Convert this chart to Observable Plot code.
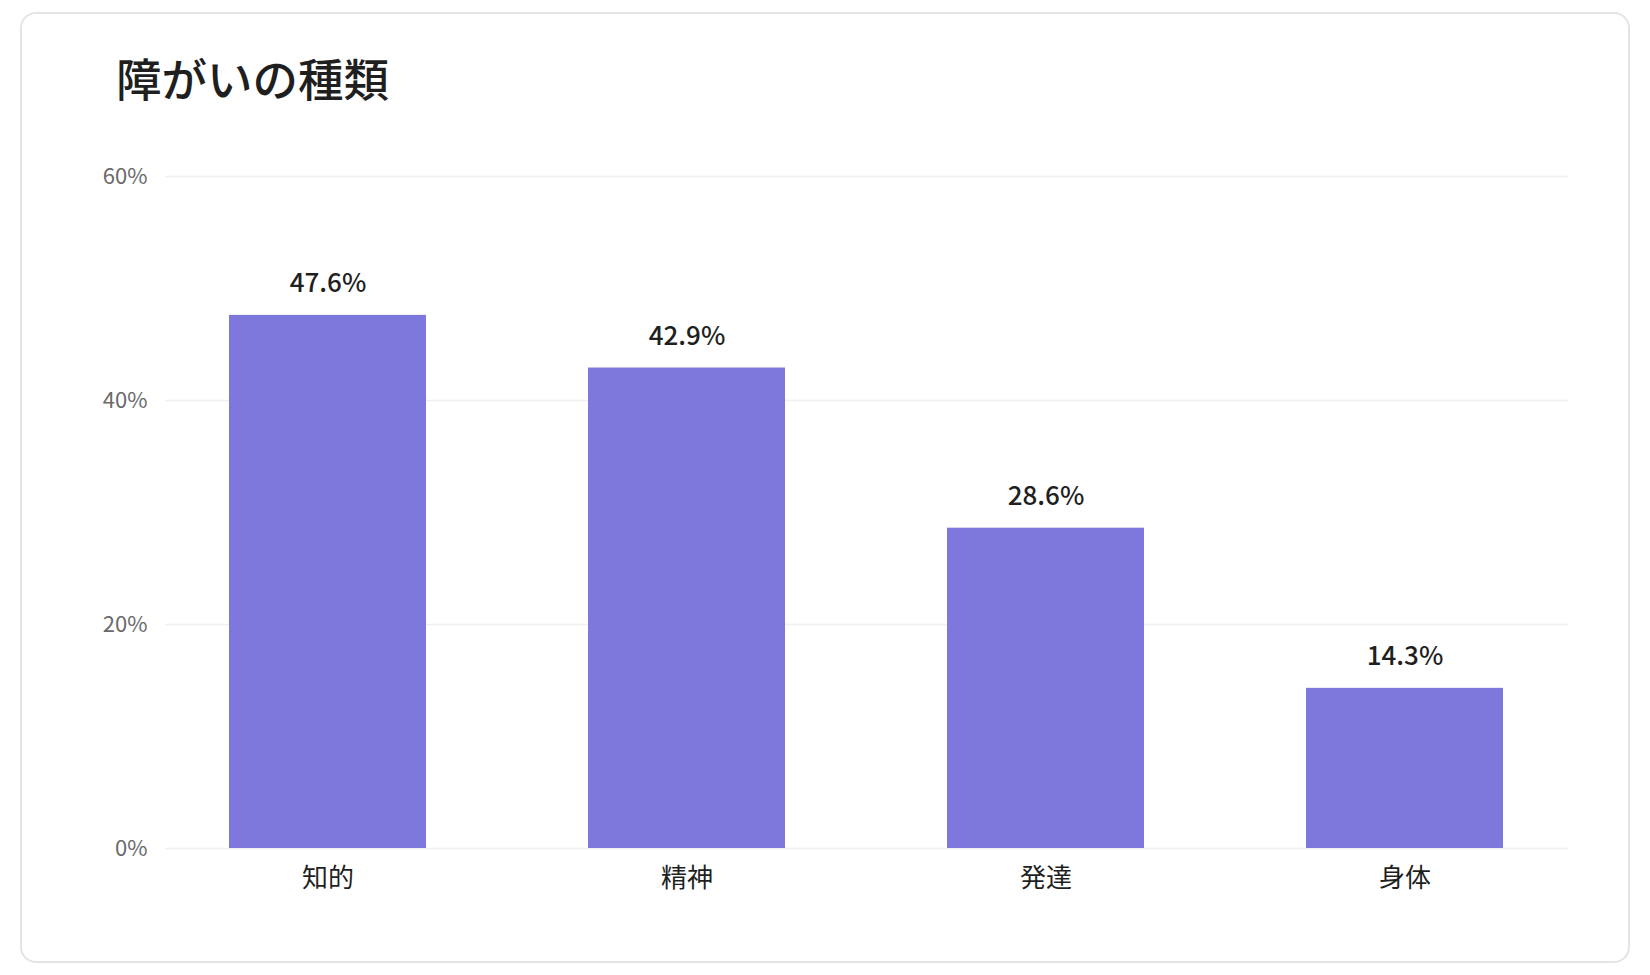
<!DOCTYPE html>
<html lang="ja">
<head>
<meta charset="utf-8">
<script src="https://cdn.jsdelivr.net/npm/d3@7"></script>
<script src="https://cdn.jsdelivr.net/npm/@observablehq/plot@0.6"></script>
<style>
  html, body { margin: 0; padding: 0; background: #ffffff; }
  body { width: 1650px; height: 975px; position: relative; overflow: hidden;
         font-family: "Noto Sans CJK JP", "Noto Sans", sans-serif; }
  #card { position: absolute; left: 20px; top: 12px; width: 1610px; height: 951px;
          box-sizing: border-box; border: 2px solid #e4e4e1; border-radius: 16px; background: #fff; }
  #title { position: absolute; left: 116px; top: 55px; margin: 0; font-size: 45.5px; line-height: 45px;
           font-weight: 500; color: #1f1f1f; white-space: nowrap; }
  #chart { position: absolute; left: 0; top: 130px; }
</style>
</head>
<body>
<div id="card"></div>
<h1 id="title">障がいの種類</h1>
<div id="chart"></div>
<script>
const categories = ["知的", "精神", "発達", "身体"];
const shares = [47.6, 42.9, 28.6, 14.3];
const yTicks = [0, 20, 40, 60];

const data = categories.map((c, i) => ({category: c, share: shares[i]}));

const chart = Plot.plot({
  width: 1650,
  height: 780,
  marginLeft: 165,
  marginRight: 82,
  marginTop: 46,
  marginBottom: 62,
  style: {fontFamily: '"Noto Sans CJK JP", sans-serif', background: "transparent", overflow: "visible"},
  x: {domain: categories, paddingInner: 0.45, paddingOuter: 0.178, label: null},
  y: {domain: [0, 60], label: null},
  marks: [
    Plot.gridY(yTicks, {stroke: "#f0f0f0", strokeOpacity: 1, strokeWidth: 1.5}),
    Plot.barY(data, {x: "category", y: "share", fill: "#7f78dc"}),
    Plot.text(data, {x: "category", y: "share", text: d => d.share.toFixed(1) + "%",
      lineAnchor: "bottom", dy: -23, fontSize: 26, fontWeight: 500, fill: "#1f1f1f"}),
    Plot.axisY(yTicks, {tickSize: 0, tickPadding: 18, tickFormat: d => d + "%",
      fontSize: 22, fill: "#6a6a6a", label: null}),
    Plot.axisX({tickSize: 0, tickPadding: 20, fontSize: 26, fill: "#1f1f1f", label: null})
  ]
});
document.getElementById("chart").appendChild(chart);
</script>
</body>
</html>
